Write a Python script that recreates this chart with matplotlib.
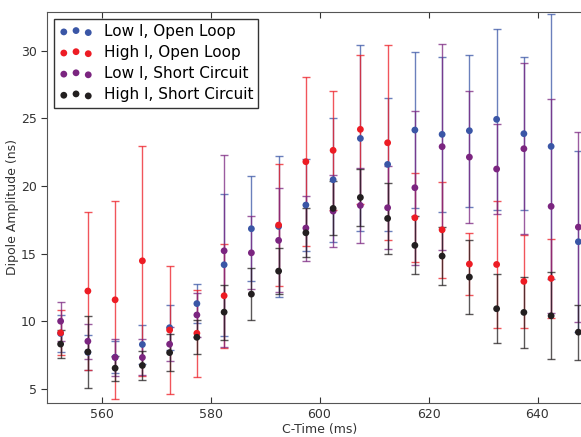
import numpy as np
import matplotlib
matplotlib.use('Agg')
import matplotlib.pyplot as plt

nan = np.nan

# C-Time bin centres (ms)
ctime = [552.5, 557.5, 562.5, 567.5, 572.5, 577.5, 582.5, 587.5, 592.5, 597.5,
         602.5, 607.5, 612.5, 617.5, 622.5, 627.5, 632.5, 637.5, 642.5, 647.5]

# Low I, Open Loop
low_open = [9.11, 7.72, 7.36, 8.30, 9.54, 11.32, 14.19, 16.85, 17.02, 18.60,
            20.47, 23.52, 21.60, 24.14, 23.82, 24.09, 24.93, 23.87, 22.93, 15.89]
low_open_err = [1.37, 1.28, 1.20, 1.42, 1.67, 1.47, 5.25, 3.87, 5.22, 3.37,
                4.58, 6.87, 4.90, 5.75, 5.70, 5.60, 6.70, 5.65, 9.80, 6.70]

# High I, Open Loop
high_open = [9.16, 12.25, 11.60, 14.48, 9.37, 9.13, 11.90, nan, 17.12, 21.80,
             22.64, 24.19, 23.20, 17.66, 16.77, 14.24, 14.21, 12.96, 13.18, nan]
high_open_err = [1.67, 5.80, 7.30, 8.50, 4.73, 3.20, 3.85, nan, 4.48, 6.25,
                 4.38, 5.50, 7.20, 3.28, 3.55, 2.30, 4.70, 3.46, 2.90, nan]

# Low I, Short Circuit
low_short = [10.02, 8.54, 7.34, 7.34, 8.32, 10.48, 15.22, 15.07, 15.99, 16.90,
             18.15, 18.57, 18.40, 19.88, 22.91, 22.14, 21.26, 22.76, 18.50, 16.97]
low_short_err = [1.43, 1.28, 1.38, 1.33, 1.27, 1.60, 7.10, 2.70, 3.85, 2.40,
                 2.67, 2.80, 3.05, 5.70, 7.60, 4.88, 3.30, 6.30, 7.90, 7.00]

# High I, Short Circuit
high_short = [8.33, 7.75, 6.55, 6.75, 7.70, 8.83, 10.69, 12.02, 13.72, 16.55,
              18.35, 19.16, 17.61, 15.62, 14.83, 13.28, 10.94, 10.67, 10.42, 9.21]
high_short_err = [1.05, 2.63, 0.92, 1.08, 1.38, 1.26, 2.03, 1.90, 1.72, 1.81,
                  2.00, 2.13, 2.65, 2.15, 2.13, 2.72, 2.55, 2.65, 3.20, 2.03]

series = [
    ('Low I, Open Loop', low_open, low_open_err, '#3a56a6'),
    ('High I, Open Loop', high_open, high_open_err, '#ed1c24'),
    ('Low I, Short Circuit', low_short, low_short_err, '#7b2580'),
    ('High I, Short Circuit', high_short, high_short_err, '#231f20'),
]

fig = plt.figure(figsize=(5.81, 4.37), dpi=100)
ax = fig.add_axes([47 / 581, 34.3 / 437, 545 / 581, 391 / 437])

for label, y, err, col in series:
    ax.errorbar(ctime, y, yerr=err, fmt='none', ecolor=col, elinewidth=1.0,
                capsize=3, capthick=1.0, alpha=0.75)
    ax.scatter(ctime, y, s=24, color=col, edgecolors='none', label=label, zorder=3)

ax.set_xlim(550, 650)
ax.set_ylim(4, 32.88)
ax.set_xticks([560, 580, 600, 620, 640])
ax.set_yticks([5, 10, 15, 20, 25, 30])
ax.tick_params(axis='x', direction='in', top=True, length=4, labelsize=9, colors='#333333')
ax.tick_params(axis='y', direction='out', length=4, labelsize=9, colors='#333333')
for sp in ax.spines.values():
    sp.set_color('#555555')

ax.set_xlabel('C-Time (ms)', fontsize=9, color='#333333', labelpad=2)
ax.set_ylabel('Dipole Amplitude (ns)', fontsize=9, color='#333333', labelpad=1)

leg = ax.legend(loc='upper left', scatterpoints=3, fontsize=11, fancybox=False,
                framealpha=1, edgecolor='#333333', handletextpad=0.7,
                handlelength=2.2, borderaxespad=0.45, labelspacing=0.4,
                borderpad=0.35)
leg.get_frame().set_linewidth(1.0)

fig.savefig('out.png', dpi=100)
